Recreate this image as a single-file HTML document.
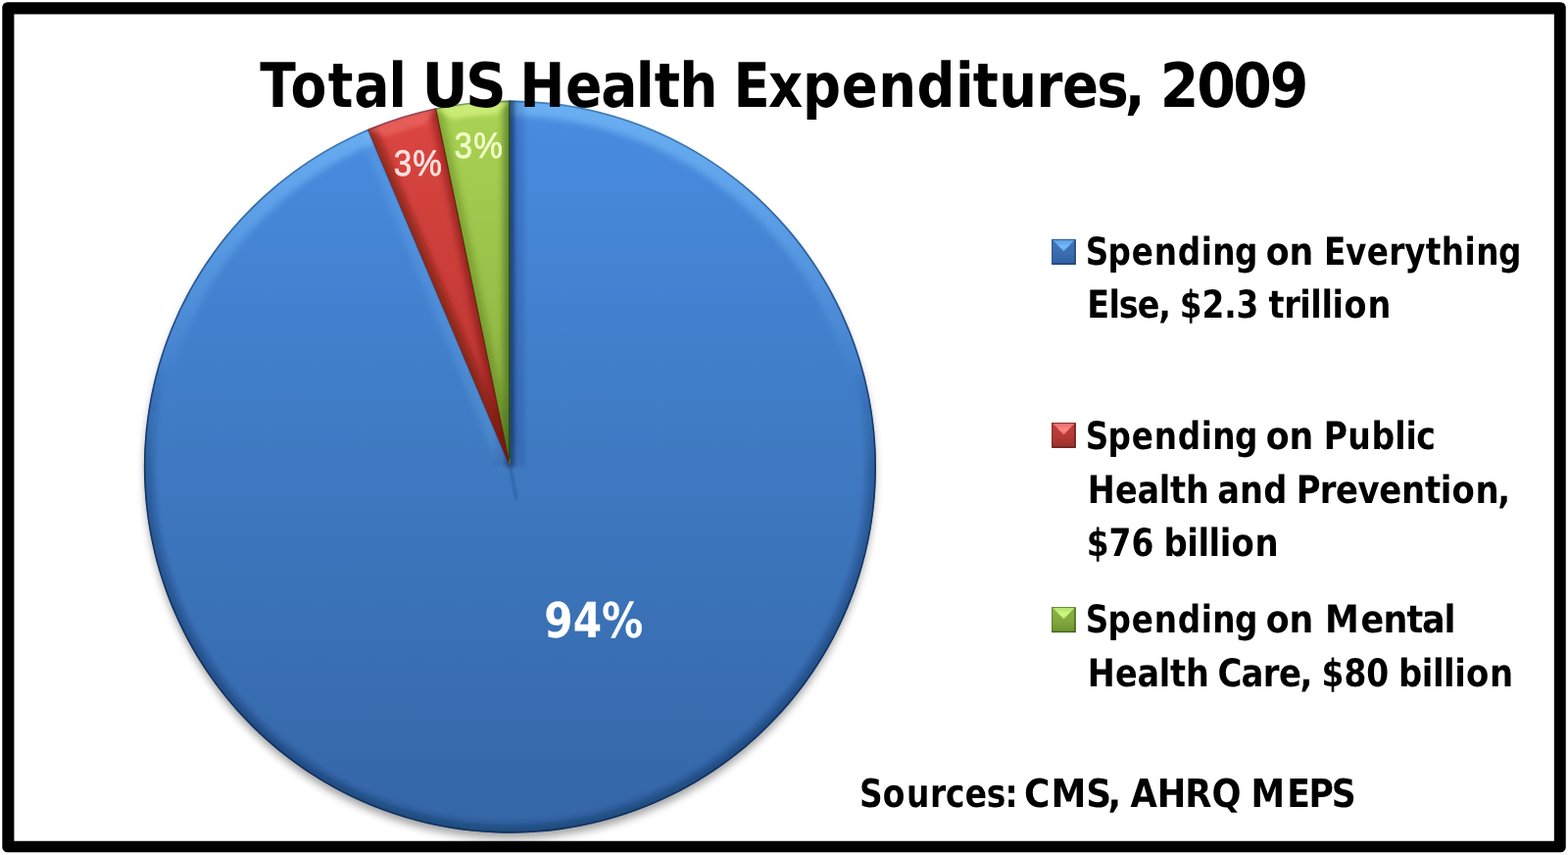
<!DOCTYPE html>
<html lang="en">
<head>
<meta charset="utf-8">
<title>Total US Health Expenditures, 2009</title>
<style>
  html,body{margin:0;padding:0;background:#fff;}
  body{width:1600px;height:872px;overflow:hidden;position:relative;font-family:"Liberation Sans",sans-serif;}
  svg{position:absolute;left:0;top:0;display:block;font-family:"Liberation Sans",sans-serif;}
</style>
</head>
<body>
<svg width="1600" height="872" viewBox="0 0 1600 872">
  <path id="frame" d="M7.6,2.3 H1592.45 A5.3,5.3 0 0 1 1597.75,7.6 V863.95 A5.3,5.3 0 0 1 1592.45,869.25 H7.6 A5.3,5.3 0 0 1 2.3,863.95 V7.6 A5.3,5.3 0 0 1 7.6,2.3 Z M14.4,14.5 V857.75 H1585.85 V14.5 Z" fill="#000" fill-rule="evenodd"/>
  <g id="pie">
    <defs>
    <linearGradient id="gBlue" gradientUnits="userSpaceOnUse" x1="0" y1="103" x2="0" y2="849"><stop offset="0" stop-color="#498ce1"/><stop offset="0.5" stop-color="#3e79c1"/><stop offset="1" stop-color="#3466a7"/></linearGradient>
    <linearGradient id="gRed" gradientUnits="userSpaceOnUse" x1="0" y1="110" x2="0" y2="476"><stop offset="0" stop-color="#dc4641"/><stop offset="1" stop-color="#b5332e"/></linearGradient>
    <linearGradient id="gGreen" gradientUnits="userSpaceOnUse" x1="0" y1="102" x2="0" y2="476"><stop offset="0" stop-color="#aad354"/><stop offset="1" stop-color="#88ae3e"/></linearGradient>
    <linearGradient id="gRimL" gradientUnits="userSpaceOnUse" x1="0" y1="103" x2="0" y2="849"><stop offset="0" stop-color="#84ccff" stop-opacity="0.55"/><stop offset="0.12" stop-color="#80c6ff" stop-opacity="0.45"/><stop offset="0.28" stop-color="#7fc0ff" stop-opacity="0.2"/><stop offset="0.38" stop-color="#7fc0ff" stop-opacity="0"/><stop offset="1" stop-color="#7fc0ff" stop-opacity="0"/></linearGradient>
    <linearGradient id="gRimD" gradientUnits="userSpaceOnUse" x1="0" y1="103" x2="0" y2="849"><stop offset="0" stop-color="#0b2147" stop-opacity="0"/><stop offset="0.36" stop-color="#0b2147" stop-opacity="0"/><stop offset="0.5" stop-color="#0b2147" stop-opacity="0.3"/><stop offset="1" stop-color="#0b2147" stop-opacity="0.4"/></linearGradient>
    <linearGradient id="gEdge" gradientUnits="userSpaceOnUse" x1="0" y1="103" x2="0" y2="849"><stop offset="0" stop-color="#143563" stop-opacity="0.4"/><stop offset="0.45" stop-color="#10294f" stop-opacity="0.7"/><stop offset="1" stop-color="#10294f" stop-opacity="0.8"/></linearGradient>
    <filter id="fSh" filterUnits="userSpaceOnUse" x="100" y="60" width="840" height="812"><feGaussianBlur stdDeviation="4.2"/></filter>
    <filter id="fB1" filterUnits="userSpaceOnUse" x="100" y="60" width="840" height="812"><feGaussianBlur stdDeviation="1.2"/></filter>
    <filter id="fB2" filterUnits="userSpaceOnUse" x="100" y="60" width="840" height="812"><feGaussianBlur stdDeviation="2.2"/></filter>
    <filter id="fB3" filterUnits="userSpaceOnUse" x="100" y="60" width="840" height="812"><feGaussianBlur stdDeviation="3"/></filter>
    <clipPath id="cPie"><circle cx="520.45" cy="476.1" r="373.6"/></clipPath>
    <clipPath id="cBlue"><path d="M520.45,476.10 L520.45,102.50 A373.60,373.60 0 1 1 375.25,131.87 Z"/></clipPath>
    <clipPath id="cRed"><path d="M520.45,476.10 L375.25,131.87 A373.60,373.60 0 0 1 444.50,110.30 Z"/></clipPath>
    <clipPath id="cGreen"><path d="M520.45,476.10 L444.50,110.30 A373.60,373.60 0 0 1 520.45,102.50 Z"/></clipPath>
    </defs>
    <circle cx="520.45" cy="482.6" r="372.6" fill="#000" opacity="0.36" filter="url(#fSh)"/>
    <path d="M520.45,476.10 L520.45,102.50 A373.60,373.60 0 1 1 375.25,131.87 Z" fill="url(#gBlue)"/>
    <path d="M520.45,476.10 L375.25,131.87 A373.60,373.60 0 0 1 444.50,110.30 Z" fill="url(#gRed)"/>
    <path d="M520.45,476.10 L444.50,110.30 A373.60,373.60 0 0 1 520.45,102.50 Z" fill="url(#gGreen)"/>
    <g clip-path="url(#cBlue)">
    <circle cx="520.45" cy="476.1" r="373.6" fill="none" stroke="url(#gRimL)" stroke-width="32.0" filter="url(#fB3)"/>
    <circle cx="520.45" cy="476.1" r="373.6" fill="none" stroke="url(#gRimD)" stroke-width="18" filter="url(#fB3)"/>
    <line x1="520.45" y1="476.1" x2="375.25" y2="131.87" stroke="#86ccff" stroke-opacity="0.16" stroke-width="20" filter="url(#fB3)"/>
    <line x1="520.45" y1="476.1" x2="520.45" y2="97.50" stroke="#0b2147" stroke-opacity="0.12" stroke-width="30" filter="url(#fB2)"/>
    <line x1="520.45" y1="476.1" x2="520.45" y2="97.50" stroke="#0b2147" stroke-opacity="0.55" stroke-width="9" filter="url(#fB2)"/>
    </g>
    <g clip-path="url(#cRed)">
    <line x1="520.45" y1="476.1" x2="375.25" y2="131.87" stroke="#5a0d0a" stroke-opacity="0.5" stroke-width="16" filter="url(#fB3)"/>
    <line x1="520.45" y1="476.1" x2="444.50" y2="110.30" stroke="#5a0d0a" stroke-opacity="0.4" stroke-width="12" filter="url(#fB3)"/>
    <path d="M375.25,131.87 A373.60,373.60 0 0 1 444.50,110.30 L433.69,127.12 A359.60,359.60 0 0 0 393.70,139.58 Z" fill="#ff8a84" fill-opacity="0.34" filter="url(#fB2)"/>
    </g>
    <g clip-path="url(#cGreen)">
    <line x1="520.45" y1="476.1" x2="444.50" y2="110.30" stroke="#3d5a10" stroke-opacity="0.3" stroke-width="14" filter="url(#fB3)"/>
    <line x1="520.45" y1="476.1" x2="520.45" y2="97.50" stroke="#2c4a10" stroke-opacity="0.5" stroke-width="14" filter="url(#fB3)"/>
    <path d="M444.50,110.30 A373.60,373.60 0 0 1 520.45,102.50 L506.45,116.77 A359.60,359.60 0 0 0 461.11,121.43 Z" fill="#e6ff96" fill-opacity="0.55" filter="url(#fB2)"/>
    </g>
    <line x1="519.95" y1="472.10" x2="526.95" y2="510.10" stroke="#173a73" stroke-opacity="0.4" stroke-width="2.2" filter="url(#fB1)"/>
    <g clip-path="url(#cPie)">
    <circle cx="520.45" cy="476.1" r="372.8" fill="none" stroke="url(#gEdge)" stroke-width="1.8"/>
    <line x1="519.85" y1="468.1" x2="519.85" y2="100.50" stroke="#1b3d20" stroke-opacity="0.9" stroke-width="1.5"/>
    <line x1="519.25" y1="470.10" x2="444.50" y2="110.30" stroke="#5a2405" stroke-opacity="0.85" stroke-width="1.4"/>
    <line x1="518.05" y1="470.10" x2="375.25" y2="131.87" stroke="#4a2038" stroke-opacity="0.5" stroke-width="1.4"/>
    </g>
  </g>

  <!-- legend swatches -->
  <defs>
    <filter id="fSw" filterUnits="userSpaceOnUse" x="1060" y="230" width="50" height="430"><feGaussianBlur stdDeviation="0.7"/></filter>
    <linearGradient id="gSwB1" x1="0" y1="0" x2="0" y2="1"><stop offset="0" stop-color="#3f74ba"/><stop offset="0.55" stop-color="#3a6cb0"/><stop offset="1" stop-color="#30609f"/></linearGradient>
    <linearGradient id="gSwB2" x1="0" y1="0" x2="0" y2="1"><stop offset="0" stop-color="#c2403c"/><stop offset="0.55" stop-color="#b43a35"/><stop offset="1" stop-color="#96302c"/></linearGradient>
    <linearGradient id="gSwB3" x1="0" y1="0" x2="0" y2="1"><stop offset="0" stop-color="#8cb445"/><stop offset="0.55" stop-color="#82a83e"/><stop offset="1" stop-color="#6d9033"/></linearGradient>
    <linearGradient id="gSwT1" x1="0" y1="0" x2="0" y2="1"><stop offset="0" stop-color="#5d9be0"/><stop offset="0.6" stop-color="#74bbf8"/><stop offset="1" stop-color="#5a9ce2"/></linearGradient>
    <linearGradient id="gSwT2" x1="0" y1="0" x2="0" y2="1"><stop offset="0" stop-color="#e86868"/><stop offset="0.6" stop-color="#ff8a88"/><stop offset="1" stop-color="#e66260"/></linearGradient>
    <linearGradient id="gSwT3" x1="0" y1="0" x2="0" y2="1"><stop offset="0" stop-color="#b4e070"/><stop offset="0.6" stop-color="#d0f880"/><stop offset="1" stop-color="#b0e068"/></linearGradient>
  </defs>
  <g id="legend-swatches">
    <g id="swatch1">
      <rect x="1073.1" y="243.9" width="24.6" height="26.0" fill="url(#gSwB1)"/>
      <path d="M1074.1,244.4 L1085.40,256.40 L1096.7,244.4 Z" fill="url(#gSwT1)" filter="url(#fSw)"/>
      <path d="M1073.6,244.4 H1097.2 V269.4 H1073.6 Z" fill="none" stroke="#16335f" stroke-opacity="0.5" stroke-width="1"/>
      <path d="M1097.0,244.9 V269.2 H1074.1" fill="none" stroke="#16335f" stroke-opacity="0.55" stroke-width="1.4"/>
    </g>
    <g id="swatch2">
      <rect x="1073.1" y="431.0" width="24.6" height="25.8" fill="url(#gSwB2)"/>
      <path d="M1074.1,431.5 L1085.40,443.40 L1096.7,431.5 Z" fill="url(#gSwT2)" filter="url(#fSw)"/>
      <path d="M1073.6,431.5 H1097.2 V456.3 H1073.6 Z" fill="none" stroke="#4d0f0d" stroke-opacity="0.5" stroke-width="1"/>
      <path d="M1097.0,432.0 V456.1 H1074.1" fill="none" stroke="#4d0f0d" stroke-opacity="0.55" stroke-width="1.4"/>
    </g>
    <g id="swatch3">
      <rect x="1073.1" y="619.0" width="24.6" height="26.1" fill="url(#gSwB3)"/>
      <path d="M1074.1,619.5 L1085.40,631.55 L1096.7,619.5 Z" fill="url(#gSwT3)" filter="url(#fSw)"/>
      <path d="M1073.6,619.5 H1097.2 V644.6 H1073.6 Z" fill="none" stroke="#34500f" stroke-opacity="0.5" stroke-width="1"/>
      <path d="M1097.0,620.0 V644.4 H1074.1" fill="none" stroke="#34500f" stroke-opacity="0.55" stroke-width="1.4"/>
    </g>
  </g>

  <!-- text -->
  <g id="labels">
<g id="title" text-rendering="geometricPrecision" font-family="'DejaVu Sans Condensed','DejaVu Sans','Liberation Sans',sans-serif" font-size="62.72" font-weight="700" fill="#000">
      <text transform="matrix(0.9500 0 0 1 0 109.30)" x="279.3 312.0 352.4 380.4 417.4" y="0">Total</text> <text transform="matrix(1.0296 0 0 1 0 109.30)" x="418.1 461.3" y="0">US</text> <text transform="matrix(0.9772 0 0 1 0 109.30)" x="542.5 590.5 627.6 663.9 683.4 709.5" y="0">Health</text> <text transform="matrix(0.9658 0 0 1 0 109.30)" x="775.1 811.8 847.9 889.2 928.0 968.7 1009.5 1028.0 1055.4 1094.9 1122.4 1158.8 1188.4" y="0">Expenditures,</text> <text transform="matrix(1.0090 0 0 1 0 109.30)" x="1173.2 1210.3 1247.0 1284.1" y="0">2009</text>
    </g>
    <g id="l1a" text-rendering="geometricPrecision" font-family="'DejaVu Sans Condensed','DejaVu Sans','Liberation Sans',sans-serif" font-size="38.99" font-weight="700" fill="#000">
      <text transform="matrix(0.9317 0 0 1 0 270.40)" x="1188.9 1213.5 1239.4 1264.0 1289.9 1315.5 1328.0 1352.5" y="0">Spending</text> <text transform="matrix(0.9905 0 0 1 0 270.40)" x="1304.1 1328.2" y="0">on</text> <text transform="matrix(0.9330 0 0 1 0 270.40)" x="1447.9 1471.7 1494.8 1518.9 1536.2 1559.1 1576.4 1601.8 1614.3 1638.7" y="0">Everything</text>
    </g>
    <g id="l1b" text-rendering="geometricPrecision" font-family="'DejaVu Sans Condensed','DejaVu Sans','Liberation Sans',sans-serif" font-size="38.99" font-weight="700" fill="#000">
      <text transform="matrix(0.9530 0 0 1 0 324.40)" x="1163.9 1187.3 1198.1 1218.1 1240.6" y="0">Else,</text> <text transform="matrix(0.9350 0 0 1 0 324.40)" x="1287.4 1311.9 1336.1 1349.3" y="0">$2.3</text> <text transform="matrix(0.9547 0 0 1 0 324.40)" x="1356.0 1372.3 1389.2 1400.8 1412.5 1424.1 1436.6 1461.6" y="0">trillion</text>
    </g>
    <g id="l2a" text-rendering="geometricPrecision" font-family="'DejaVu Sans Condensed','DejaVu Sans','Liberation Sans',sans-serif" font-size="38.99" font-weight="700" fill="#000">
      <text transform="matrix(0.9317 0 0 1 0 458.20)" x="1188.9 1213.5 1239.4 1264.0 1289.9 1315.5 1328.0 1352.5" y="0">Spending</text> <text transform="matrix(0.9905 0 0 1 0 458.20)" x="1304.1 1328.2" y="0">on</text> <text transform="matrix(0.9433 0 0 1 0 458.20)" x="1432.0 1458.0 1483.6 1508.9 1520.7 1532.2" y="0">Public</text>
    </g>
    <g id="l2b" text-rendering="geometricPrecision" font-family="'DejaVu Sans Condensed','DejaVu Sans','Liberation Sans',sans-serif" font-size="38.99" font-weight="700" fill="#000">
      <text transform="matrix(0.9543 0 0 1 0 513.00)" x="1162.8 1192.5 1216.1 1239.5 1251.1 1267.9" y="0">Health</text> <text transform="matrix(0.9601 0 0 1 0 513.00)" x="1294.0 1317.6 1342.8" y="0">and</text> <text transform="matrix(0.9670 0 0 1 0 513.00)" x="1367.8 1392.7 1409.6 1432.8 1455.2 1478.9 1503.6 1519.8 1532.1 1556.8 1580.4" y="0">Prevention,</text>
    </g>
    <g id="l2c" text-rendering="geometricPrecision" font-family="'DejaVu Sans Condensed','DejaVu Sans','Liberation Sans',sans-serif" font-size="38.99" font-weight="700" fill="#000">
      <text transform="matrix(0.9383 0 0 1 0 567.10)" x="1181.6 1206.0 1230.5" y="0">$76</text> <text transform="matrix(0.9657 0 0 1 0 567.10)" x="1229.6 1254.4 1265.9 1277.4 1288.9 1301.2 1325.9" y="0">billion</text>
    </g>
    <g id="l3a" text-rendering="geometricPrecision" font-family="'DejaVu Sans Condensed','DejaVu Sans','Liberation Sans',sans-serif" font-size="38.99" font-weight="700" fill="#000">
      <text transform="matrix(0.9317 0 0 1 0 645.30)" x="1188.9 1213.5 1239.4 1264.0 1289.9 1315.5 1328.0 1352.5" y="0">Spending</text> <text transform="matrix(0.9905 0 0 1 0 645.30)" x="1304.1 1328.2" y="0">on</text> <text transform="matrix(0.9967 0 0 1 0 645.30)" x="1356.4 1393.2 1416.1 1440.3 1455.9 1478.5" y="0">Mental</text>
    </g>
    <g id="l3b" text-rendering="geometricPrecision" font-family="'DejaVu Sans Condensed','DejaVu Sans','Liberation Sans',sans-serif" font-size="38.99" font-weight="700" fill="#000">
      <text transform="matrix(0.9543 0 0 1 0 700.40)" x="1162.8 1192.5 1216.1 1239.5 1251.1 1267.9" y="0">Health</text> <text transform="matrix(0.9677 0 0 1 0 700.40)" x="1283.9 1308.8 1331.8 1348.6 1370.9" y="0">Care,</text> <text transform="matrix(0.9383 0 0 1 0 700.40)" x="1437.2 1461.6 1486.0" y="0">$80</text> <text transform="matrix(0.9657 0 0 1 0 700.40)" x="1477.6 1502.4 1513.9 1525.4 1536.9 1549.2 1573.9" y="0">billion</text>
    </g>
    <g id="src" text-rendering="geometricPrecision" font-family="'DejaVu Sans Condensed','DejaVu Sans','Liberation Sans',sans-serif" font-size="39.65" font-weight="700" fill="#000">
      <text transform="matrix(0.9233 0 0 1 0 822.90)" x="949.9 975.5 1001.8 1027.8 1045.2 1066.5 1090.4 1110.6" y="0">Sources:</text> <text transform="matrix(1.0100 0 0 1 0 822.90)" x="1034.7 1061.8 1097.3 1119.2" y="0">CMS,</text> <text transform="matrix(0.9898 0 0 1 0 822.90)" x="1165.4 1192.9 1221.6 1249.2" y="0">AHRQ</text> <text transform="matrix(0.9722 0 0 1 0 822.90)" x="1313.0 1350.7 1373.8 1397.7" y="0">MEPS</text>
    </g>
    <g id="p94" text-rendering="geometricPrecision" font-family="'DejaVu Sans Condensed','DejaVu Sans','Liberation Sans',sans-serif" font-size="49.7" font-weight="700" fill="#fff">
      <text transform="matrix(0.9435 0 0 1 0 649.90)" x="588.6 619.7 650.8" y="0">94%</text>
    </g>
    <g id="p3r" text-rendering="geometricPrecision" font-family="'Liberation Sans',sans-serif" font-size="37" font-weight="400" fill="#ffe3e0" stroke="#ffe3e0" stroke-width="0.7" stroke-linejoin="round">
      <text transform="matrix(0.8963 0 0 1 0 179.40)" x="448.1 470.1" y="0">3%</text>
    </g>
    <g id="p3g" text-rendering="geometricPrecision" font-family="'Liberation Sans',sans-serif" font-size="37" font-weight="400" fill="#f0ffc8" stroke="#f0ffc8" stroke-width="0.7" stroke-linejoin="round">
      <text transform="matrix(0.8982 0 0 1 0 161.00)" x="516.1 538.1" y="0">3%</text>
    </g>
  </g>
</svg>
</body>
</html>
